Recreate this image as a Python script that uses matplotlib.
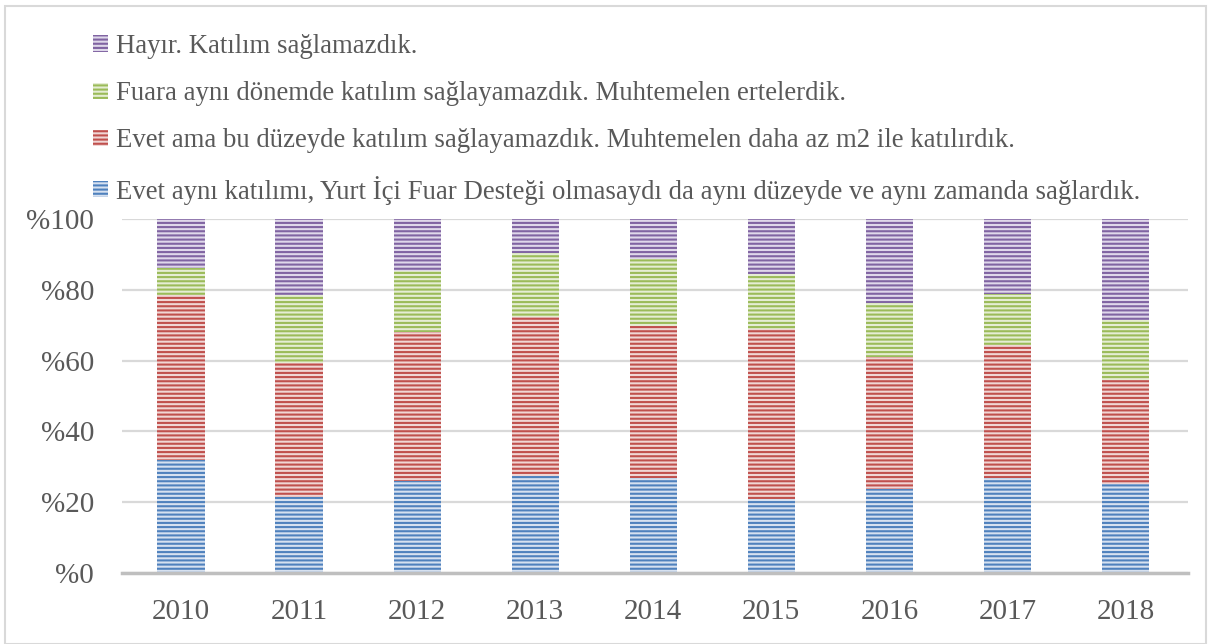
import numpy as np
import matplotlib
matplotlib.use("Agg")
import matplotlib.pyplot as plt
from matplotlib.patches import Rectangle

plt.rcParams['font.family'] = ['Liberation Serif', 'DejaVu Serif']
plt.rcParams['hatch.linewidth'] = 1.5

years = ['2010', '2011', '2012', '2013', '2014', '2015', '2016', '2017', '2018']

# segment shares (%)
evet_ayni = [31.9, 21.5, 26.1, 27.4, 26.9, 20.9, 23.7, 26.9, 25.2]
evet_az = [46.6, 37.8, 41.9, 45.0, 42.9, 48.1, 37.4, 37.5, 29.3]
ertelerdik = [7.7, 19.2, 17.4, 18.1, 18.9, 15.5, 15.1, 14.3, 17.0]
hayir = [13.8, 21.5, 14.6, 9.5, 11.3, 15.5, 23.8, 21.3, 28.5]

labels = [
    'Evet aynı katılımı, Yurt İçi Fuar Desteği olmasaydı da aynı düzeyde ve aynı zamanda sağlardık.',
    'Evet ama bu düzeyde katılım sağlayamazdık. Muhtemelen daha az m2 ile katılırdık.',
    'Fuara aynı dönemde katılım sağlayamazdık. Muhtemelen ertelerdik.',
    'Hayır. Katılım sağlamazdık.',
]
series = [evet_ayni, evet_az, ertelerdik, hayir]
line_colors = ['#4f81bd', '#c0504d', '#9bbb59', '#8064a2']
fill_colors = ['#d6e1f0', '#f0d6d5', '#e5edd4', '#dfd8ea']

fig = plt.figure(figsize=(12.11, 6.44), dpi=100)
ax = fig.add_axes([122 / 1211, 1 - 573 / 644, (1188 - 122) / 1211, (573 - 219) / 644])

x = np.arange(len(years))
bottom = np.zeros(len(years))
handles = []
for vals, lc, fc, lab in zip(series, line_colors, fill_colors, labels):
    vals = np.array(vals)
    b = ax.bar(x, vals, width=0.4, bottom=bottom, color=fc, edgecolor=lc,
               hatch='----', linewidth=0, label=lab, zorder=3)
    handles.append(b)
    bottom += vals

ax.set_xlim(-0.5, 8.53)
ax.set_ylim(0, 100)
ax.set_yticks([0, 20, 40, 60, 80, 100])
ax.set_yticklabels(['%0', '%20', '%40', '%60', '%80', '%100'])
ax.set_xticks(x)
ax.set_xticklabels(years)
ax.tick_params(axis='both', length=0, labelsize=21, labelcolor='#595959')
ax.tick_params(axis='y', pad=20)
ax.tick_params(axis='x', pad=19)
ax.grid(axis='y', color='#d9d9d9', linewidth=1.6, zorder=0)
for s in ['top', 'right', 'left']:
    ax.spines[s].set_visible(False)
ax.spines['bottom'].set_color('#bfbfbf')
ax.spines['bottom'].set_linewidth(2.5)
ax.spines['bottom'].set_zorder(4)

leg = fig.legend(handles[::-1], labels[::-1], loc='upper left',
                 bbox_to_anchor=(93 / 1211, 1 - 34 / 644), frameon=False,
                 fontsize=19.3, labelcolor='#595959', handlelength=0.55,
                 handleheight=0.55, handletextpad=0.3, labelspacing=0.83,
                 borderaxespad=0, borderpad=0)

fig.patches.append(Rectangle((5 / 1211, 0), 1 - 10 / 1211, 1 - 6 / 644,
                             transform=fig.transFigure, fill=False,
                             edgecolor='#d9d9d9', linewidth=1.5))

fig.savefig('out.png', dpi=100)
